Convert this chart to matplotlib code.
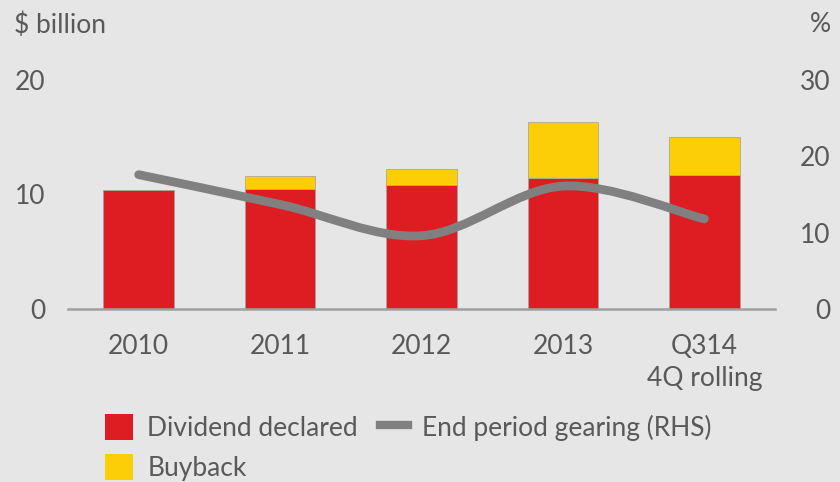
import matplotlib
matplotlib.use("Agg")
import matplotlib.pyplot as plt
from matplotlib.path import Path
from matplotlib.patches import PathPatch, Patch
from matplotlib.lines import Line2D
import numpy as np

categories = ["2010", "2011", "2012", "2013", "Q314\n4Q rolling"]
dividend = [10.4, 10.5, 10.8, 11.4, 11.7]
buyback = [0.0, 1.1, 1.45, 4.95, 3.35]
gearing = [17.6, 13.7, 9.6, 16.1, 11.8]
left_ticks = [0, 10, 20]
right_ticks = [0, 10, 20, 30]

BG = "#e6e6e6"
RED = "#dd1d21"
YEL = "#fbce07"
GREY = "#808080"
TXT = "#595959"

plt.rcParams['font.family'] = ['Lato', 'DejaVu Sans']
FS = 19

fig = plt.figure(figsize=(8.4, 4.82), dpi=100, facecolor=BG)
ax = fig.add_axes([68/840, 1-309/482, (775-68)/840, (309-80)/482])
ax.set_facecolor(BG)
x = np.arange(len(categories))
ax.bar(x, dividend, width=0.5, color=RED, edgecolor="#a8a0a0", linewidth=0.6, zorder=2)
ax.bar(x, buyback, bottom=dividend, width=0.5, color=YEL, edgecolor="#b0a890", linewidth=0.6, zorder=2)
ax.set_xlim(-0.5, 4.5)
ax.set_ylim(0, 20)
for s in ["top", "left", "right"]:
    ax.spines[s].set_visible(False)
ax.spines["bottom"].set_color("#a0a0a0")
ax.spines["bottom"].set_linewidth(1.8)
ax.set_yticks(left_ticks)
ax.set_yticklabels([str(v) for v in left_ticks])
ax.set_xticks(x)
ax.set_xticklabels(categories, linespacing=1.35)
ax.tick_params(axis="both", length=0, labelsize=FS, labelcolor=TXT)
ax.tick_params(axis="y", pad=16)
ax.tick_params(axis="x", pad=18)

ax2 = ax.twinx()
ax2.set_ylim(0, 30)
for s in ["top", "left", "right", "bottom"]:
    ax2.spines[s].set_visible(False)
ax2.set_yticks(right_ticks)
ax2.set_yticklabels([str(v) for v in right_ticks])
ax2.tick_params(axis="y", length=0, labelsize=FS, labelcolor=TXT, pad=40)
for lab in ax2.get_yticklabels():
    lab.set_horizontalalignment("right")

# smooth gearing line (Catmull-Rom -> cubic Bezier)
pts = np.column_stack([x, gearing]).astype(float)
n = len(pts)
verts = [tuple(pts[0])]
codes = [Path.MOVETO]
for i in range(n - 1):
    p0 = pts[max(i - 1, 0)]
    p1 = pts[i]
    p2 = pts[i + 1]
    p3 = pts[min(i + 2, n - 1)]
    c1 = p1 + (p2 - p0) / 6.0
    c2 = p2 - (p3 - p1) / 6.0
    verts += [tuple(c1), tuple(c2), tuple(p2)]
    codes += [Path.CURVE4] * 3
ax2.add_patch(PathPatch(Path(verts, codes), facecolor="none", edgecolor=GREY,
                        linewidth=6.3, capstyle="round", joinstyle="round", zorder=3))

fig.text(14/840, 1-25/482, "$ billion", fontsize=FS, color=TXT, ha="left", va="center")
fig.text(831/840, 1-25/482, "%", fontsize=FS, color=TXT, ha="right", va="center")

handles = [Patch(facecolor=RED, edgecolor="none"),
           Patch(facecolor=YEL, edgecolor="none"),
           Line2D([0], [0], color=GREY, linewidth=6)]
labels = ["Dividend declared", "Buyback", "End period gearing (RHS)"]
fig.legend(handles, labels, ncol=2, loc="upper left", bbox_to_anchor=(105/840, 1-414/482),
           frameon=False, fontsize=FS, labelcolor=TXT, handlelength=1.05, handleheight=1.15,
           handletextpad=0.55, columnspacing=0.85, labelspacing=0.5, borderaxespad=0,
           borderpad=0)

fig.savefig("out.png", dpi=100, facecolor=BG)
